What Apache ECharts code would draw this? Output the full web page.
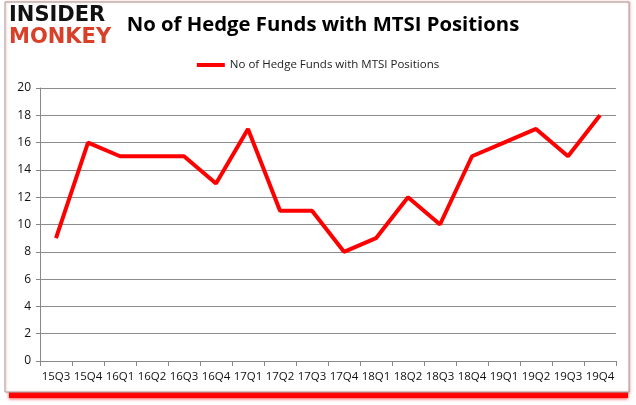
<!DOCTYPE html>
<html><head><meta charset="utf-8">
<script src="https://cdn.jsdelivr.net/npm/echarts@6/dist/echarts.min.js"></script>
<style>html,body{margin:0;padding:0;background:#fff}#c{width:636px;height:405px}</style>
</head><body><div id="c"></div>
<script>
var categories = ['15Q3','15Q4','16Q1','16Q2','16Q3','16Q4','17Q1','17Q2','17Q3','17Q4','18Q1','18Q2','18Q3','18Q4','19Q1','19Q2','19Q3','19Q4'];
var values = [9,16,15,15,15,13,17,11,11,8,9,12,10,15,16,17,15,18];
var seriesName = 'No of Hedge Funds with MTSI Positions';
var titleText = 'No of Hedge Funds with MTSI Positions';

var chart = echarts.init(document.getElementById('c'));
chart.setOption({
  animation: false,
  backgroundColor: '#fff',
  graphic: [
    {type:'rect', shape:{x:9,y:386,width:619,height:12}, z:-11,
     style:{fill:'#ff0000', shadowColor:'rgba(255,0,0,0.7)', shadowBlur:3, shadowOffsetY:1}},
    {type:'rect', shape:{x:5,y:2,width:624,height:390}, z:-10,
     style:{fill:'#fff', stroke:'#a0a0a0', lineWidth:1, shadowColor:'rgba(255,120,120,0.5)', shadowBlur:2, shadowOffsetX:1}},
    {type:'text', left:9, top:5, style:{text:'INSIDER', font:'900 21px "DejaVu Sans"', fill:'#111'}},
    {type:'text', left:9, top:27, style:{text:'MONKEY', font:'900 21px "DejaVu Sans"', fill:'#d9402a'}}
  ],
  title: {text: titleText, left: 318, textAlign:'center', top: 10,
    textStyle:{fontFamily:'"Open Sans"', fontWeight:'bold', fontSize:20.3, color:'#000'}},
  legend: {top: 54, left: 'center', itemWidth: 28, itemHeight: 4, itemGap: 4,
    icon: 'rect',
    textStyle:{fontFamily:'"Open Sans"', fontSize:11.5, color:'#222'},
    data:[seriesName]},
  grid: {left: 40, right: 20, top: 88, bottom: 44, containLabel:false},
  xAxis: {type:'category', data: categories, boundaryGap:true,
    axisLine:{lineStyle:{color:'#888'}},
    axisTick:{show:true, length:5, lineStyle:{color:'#888'}, alignWithLabel:false},
    axisLabel:{color:'#111', fontFamily:'"Open Sans"', fontSize:11.5, margin:10, interval:0}},
  yAxis: {type:'value', min:0, max:20, interval:2,
    axisLine:{show:true, lineStyle:{color:'#888'}},
    axisTick:{show:true, length:4, lineStyle:{color:'#888'}},
    splitLine:{lineStyle:{color:'#8c8c8c'}},
    axisLabel:{color:'#111', fontFamily:'"Open Sans"', fontSize:12, margin:9}},
  series: [{name: seriesName, type:'line', data: values, showSymbol:false, symbol:'none',
    lineStyle:{color:'#ff0000', width:4}, itemStyle:{color:'#ff0000'}}]
});
</script></body></html>
